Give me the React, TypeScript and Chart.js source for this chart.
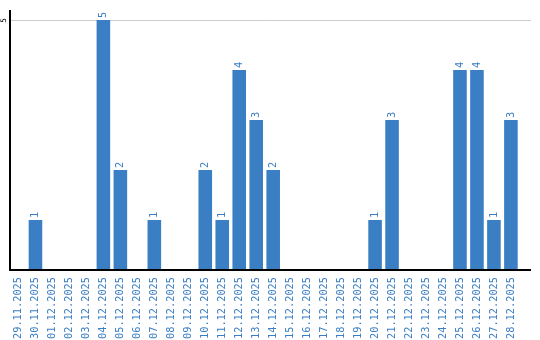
import React, { useEffect, useRef } from "react";
import { Chart, registerables } from "chart.js";

Chart.register(...registerables);

const categories = [
  "29.11.2025", "30.11.2025", "01.12.2025", "02.12.2025", "03.12.2025",
  "04.12.2025", "05.12.2025", "06.12.2025", "07.12.2025", "08.12.2025",
  "09.12.2025", "10.12.2025", "11.12.2025", "12.12.2025", "13.12.2025",
  "14.12.2025", "15.12.2025", "16.12.2025", "17.12.2025", "18.12.2025",
  "19.12.2025", "20.12.2025", "21.12.2025", "22.12.2025", "23.12.2025",
  "24.12.2025", "25.12.2025", "26.12.2025", "27.12.2025", "28.12.2025",
];
const values = [0, 1, 0, 0, 0, 5, 2, 0, 1, 0, 0, 2, 1, 4, 3, 2, 0, 0, 0, 0, 0, 1, 3, 0, 0, 0, 4, 4, 1, 3];
const yTicks = [5];
const yMax = 5.2;

const BLUE = "#3a7ec3";
const FONT = "10.3px 'DejaVu Sans Mono', monospace";

const overlay = {
  id: "overlay",
  beforeDatasetsDraw(chart: any) {
    const { ctx, chartArea } = chart;
    const y = chart.scales.y;
    const lineRight = 531;
    ctx.save();
    ctx.strokeStyle = "#cccccc";
    ctx.lineWidth = 1;
    yTicks.forEach((t) => {
      const py = Math.round(y.getPixelForValue(t)) + 0.5;
      ctx.beginPath();
      ctx.moveTo(chartArea.left, py);
      ctx.lineTo(lineRight, py);
      ctx.stroke();
      ctx.save();
      ctx.translate(chartArea.left - 4, py);
      ctx.rotate(-Math.PI / 2);
      ctx.fillStyle = "#000";
      ctx.font = "7.5px 'DejaVu Sans Mono', monospace";
      ctx.textAlign = "center";
      ctx.textBaseline = "alphabetic";
      ctx.fillText(String(t), 0, 0);
      ctx.restore();
    });
    ctx.restore();
  },
  afterDatasetsDraw(chart: any) {
    const { ctx, chartArea } = chart;
    const lineRight = 531;
    ctx.save();
    ctx.strokeStyle = "#000";
    ctx.lineWidth = 2;
    ctx.beginPath();
    ctx.moveTo(chartArea.left, chartArea.top);
    ctx.lineTo(chartArea.left, chartArea.bottom);
    ctx.lineTo(lineRight, chartArea.bottom);
    ctx.stroke();

    const meta = chart.getDatasetMeta(0);
    ctx.fillStyle = BLUE;
    ctx.font = FONT;
    ctx.textBaseline = "middle";
    meta.data.forEach((bar: any, i: number) => {
      ctx.save();
      ctx.translate(bar.x, chartArea.bottom + 7);
      ctx.rotate(-Math.PI / 2);
      ctx.textAlign = "right";
      ctx.fillText(categories[i], 0, 0);
      ctx.restore();
      const v = values[i];
      if (!v) return;
      ctx.save();
      ctx.translate(bar.x, bar.y - 2);
      ctx.rotate(-Math.PI / 2);
      ctx.textAlign = "left";
      ctx.fillText(String(v), 0, 0);
      ctx.restore();
    });
    ctx.restore();
  },
};

export default function App() {
  const ref = useRef<HTMLCanvasElement>(null);
  useEffect(() => {
    document.body.style.margin = "0";
    const chart = new Chart(ref.current!, {
      type: "bar",
      data: {
        labels: categories,
        datasets: [
          {
            data: values,
            backgroundColor: BLUE,
            barPercentage: 0.8,
            categoryPercentage: 1,
          },
        ],
      },
      options: {
        animation: false,
        responsive: false,
        layout: { padding: { top: 10, left: 10, right: 20.6, bottom: 0 } },
        plugins: { legend: { display: false }, tooltip: { enabled: false } },
        scales: {
          x: {
            grid: { display: false },
            border: { display: false },
            ticks: { display: false },
            afterFit: (s: any) => {
              s.height = 70;
            },
          },
          y: {
            display: false,
            min: 0,
            max: yMax,
          },
        },
      },
      plugins: [overlay],
    });
    return () => chart.destroy();
  }, []);
  return (
    <div style={{ width: 540, height: 340 }}>
      <canvas ref={ref} width={540} height={340} />
    </div>
  );
}
